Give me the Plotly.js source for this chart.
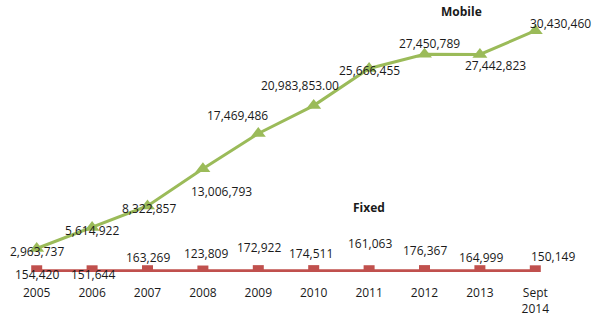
<!DOCTYPE html>
<html>
<head>
<meta charset="utf-8">
<script src="https://cdn.plot.ly/plotly-3.0.1.min.js"></script>
<style>html,body{margin:0;padding:0;background:#fff;}#chart{width:592px;height:318px;}</style>
</head>
<body>
<div id="chart"></div>
<script>
// ---- data ----
const years = ["2005","2006","2007","2008","2009","2010","2011","2012","2013","Sept<br>2014"];
const mobile = [2963737, 5614922, 8322857, 13006793, 17469486, 20983853, 25666455, 27450789, 27442823, 30430460];
const mobileLabels = ["2,963,737","5,614,922","8,322,857","13,006,793","17,469,486","20,983,853.00","25,666,455","27,450,789","27,442,823","30,430,460"];
const fixed = [154420, 151644, 163269, 123809, 172922, 174511, 161063, 176367, 164999, 150149];
const fixedLabels = ["154,420","151,644","163,269","123,809","172,922","174,511","161,063","176,367","164,999","150,149"];

// ---- label placement (pixel offsets, x right / y up) ----
const mobDx = [0, 0, 1, 19, -21, -14, 0, 5, 16, 25];
const mobDy = [-3, -3, -2, -23, 18, 20, -2, 11, -11, 7];
const fixDx = [0, 1, 0, 3, 1, -3, 1, 0, 1, 18];
const fixDy = [-4, -4, 13, 18, 23, 17, 27, 20, 13, 14];

const xs = years.map((_, i) => i);
const green = "#9BBB59", red = "#C0504D";
const font = {family: "Open Sans, sans-serif", size: 12, color: "#1a1a1a"};

const traces = [
  {x: xs, y: fixed, mode: "lines+markers", line: {color: red, width: 3},
   marker: {symbol: "square", size: 11, color: red}, hoverinfo: "skip"},
  {x: xs, y: mobile, mode: "lines+markers", line: {color: green, width: 3},
   marker: {symbol: "triangle-up", size: 13, color: green}, hoverinfo: "skip"}
];

const ann = [];
xs.forEach(i => {
  ann.push({x: i, y: mobile[i], text: mobileLabels[i], showarrow: false, font: font,
            xshift: mobDx[i], yshift: mobDy[i]});
  ann.push({x: i, y: fixed[i], text: fixedLabels[i], showarrow: false, font: font,
            xshift: fixDx[i], yshift: fixDy[i]});
});
ann.push({x: 7.67, y: mobile[9], text: "<b>Mobile</b>", showarrow: false, font: font, yshift: 19});
ann.push({x: 6, y: fixed[6], text: "<b>Fixed</b>", showarrow: false, font: font, yshift: 63});

const layout = {
  width: 592, height: 318,
  margin: {l: 9, r: 29, t: 0, b: 46},
  paper_bgcolor: "#fff", plot_bgcolor: "#fff",
  showlegend: false,
  font: font,
  xaxis: {range: [-0.5, 9.5], tickvals: xs, ticktext: years, showgrid: false,
          zeroline: false, showline: false, ticks: "", ticklabelstandoff: 12,
          tickfont: font, fixedrange: true},
  yaxis: {range: [0, 34300000], visible: false, showgrid: false, zeroline: false, fixedrange: true},
  annotations: ann
};

Plotly.newPlot("chart", traces, layout, {displayModeBar: false, staticPlot: true});
</script>
</body>
</html>
